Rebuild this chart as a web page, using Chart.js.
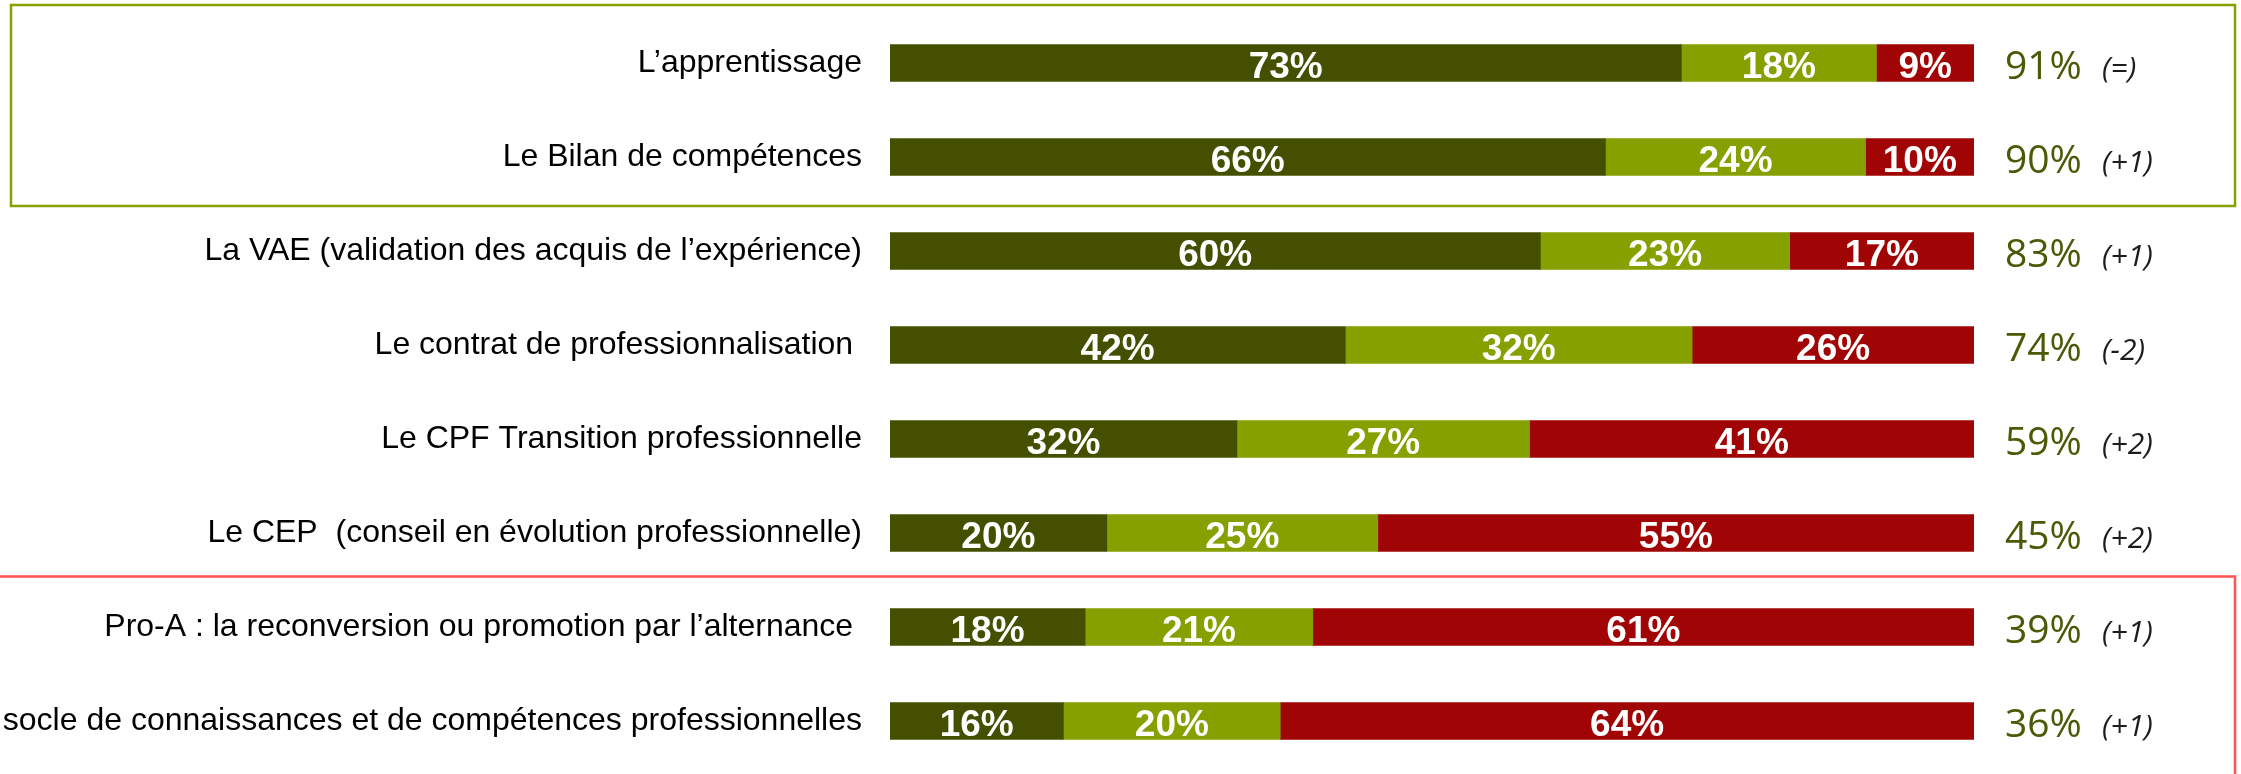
<!DOCTYPE html>
<html>
<head>
<meta charset="utf-8">
<script src="https://cdn.jsdelivr.net/npm/chart.js@4.4.1/dist/chart.umd.min.js"></script>
<style>
  html, body { margin: 0; padding: 0; background: #ffffff; }
  #wrap { width: 2241px; height: 774px; position: relative; overflow: hidden; }
  canvas { display: block; }
</style>
</head>
<body>
<div id="wrap"><canvas id="c" width="2241" height="774"></canvas></div>
<script>
// ---- Data ----
const categories = [
  "L’apprentissage",
  "Le Bilan de compétences",
  "La VAE (validation des acquis de l’expérience)",
  "Le contrat de professionnalisation ",
  "Le CPF Transition professionnelle",
  "Le CEP  (conseil en évolution professionnelle)",
  "Pro-A : la reconversion ou promotion par l’alternance ",
  "socle de connaissances et de compétences professionnelles"
];
const seriesDark  = [73, 66, 60, 42, 32, 20, 18, 16];
const seriesLight = [18, 24, 23, 32, 27, 25, 21, 20];
const seriesRed   = [9, 10, 17, 26, 41, 55, 61, 64];
const evolutions  = ["(=)", "(+1)", "(+1)", "(-2)", "(+2)", "(+2)", "(+1)", "(+1)"];

// ---- Styles ----
const COL_DARK = '#445000';
const COL_LIGHT = '#86a000';
const COL_RED = '#a00404';
const COL_TOTAL = '#4a5a06';

const barLabels = {
  id: 'barLabels',
  afterDatasetsDraw(chart) {
    const ctx = chart.ctx;
    ctx.save();
    ctx.font = 'bold 37px "Liberation Sans", Arial, sans-serif';
    ctx.fillStyle = '#ffffff';
    ctx.textAlign = 'center';
    ctx.textBaseline = 'alphabetic';
    chart.data.datasets.forEach((ds, di) => {
      const meta = chart.getDatasetMeta(di);
      meta.data.forEach((el, i) => {
        const cx = (el.x + el.base) / 2;
        ctx.fillText(ds.data[i] + '%', cx, el.y + 14.5);
      });
    });
    // totals and evolutions
    const ys = chart.scales.y;
    const right = chart.chartArea.right;
    for (let i = 0; i < categories.length; i++) {
      const y = ys.getPixelForValue(i);
      const total = seriesDark[i] + seriesLight[i];
      ctx.textAlign = 'left';
      ctx.font = '39px "Open Sans", sans-serif';
      ctx.fillStyle = COL_TOTAL;
      ctx.fillText(total + '%', right + 31, y + 16);
      ctx.font = 'italic 30px "Open Sans", sans-serif';
      ctx.fillStyle = '#1c1c1c';
      ctx.fillText(evolutions[i], right + 128, y + 15);
    }
    ctx.restore();
  }
};

const boxes = {
  id: 'boxes',
  afterDraw(chart) {
    const ctx = chart.ctx;
    const ys = chart.scales.y;
    const mid = (a, b) => (ys.getPixelForValue(a) + ys.getPixelForValue(b)) / 2;
    ctx.save();
    // green frame around first two rows
    ctx.strokeStyle = '#88a000';
    ctx.lineWidth = 2.5;
    const gTop = chart.chartArea.top - 11;
    const gBottom = mid(1, 2) + 2;
    ctx.strokeRect(11, gTop, 2235 - 11, gBottom - gTop);
    // red frame around last two rows
    ctx.strokeStyle = '#ff5656';
    ctx.lineWidth = 2.6;
    const rTop = mid(5, 6) - 3.5;
    ctx.strokeRect(-10, rTop, 2235 + 10, 900 - rTop);
    ctx.restore();
  }
};

new Chart(document.getElementById('c'), {
  type: 'bar',
  data: {
    labels: categories,
    datasets: [
      { label: 'Dark', data: seriesDark, backgroundColor: COL_DARK, barThickness: 37 },
      { label: 'Light', data: seriesLight, backgroundColor: COL_LIGHT, barThickness: 37 },
      { label: 'Red', data: seriesRed, backgroundColor: COL_RED, barThickness: 37 }
    ]
  },
  options: {
    indexAxis: 'y',
    responsive: false,
    animation: false,
    events: [],
    layout: { padding: { top: 16, bottom: 6, left: 0, right: 267 } },
    plugins: { legend: { display: false }, tooltip: { enabled: false }, title: { display: false } },
    scales: {
      x: { stacked: true, min: 0, max: 100, display: false },
      y: {
        stacked: true,
        grid: { display: false, drawTicks: false },
        border: { display: false },
        ticks: {
          color: '#000000',
          padding: 28,
          font: { family: '"Liberation Sans", Arial, sans-serif', size: 32 }
        },
        afterFit(scale) {
          scale.width = 890;
          scale.paddingTop = 0;
          scale.paddingBottom = 0;
        }
      }
    }
  },
  plugins: [barLabels, boxes]
});
</script>
</body>
</html>
